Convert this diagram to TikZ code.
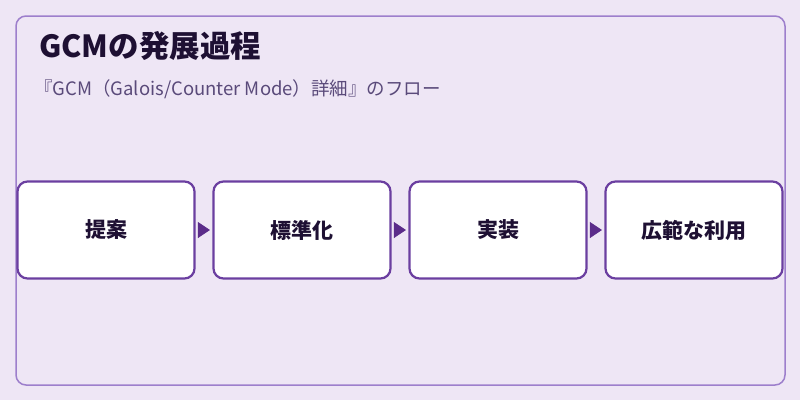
\documentclass[tikz,border=0pt]{standalone}
\usepackage{fontspec}
\setmainfont{Noto Sans CJK JP}
\usetikzlibrary{arrows.meta}
\definecolor{bgc}{HTML}{EEE6F5}
\definecolor{framec}{HTML}{9D7FCC}
\definecolor{boxc}{HTML}{6B3FA0}
\definecolor{arrc}{HTML}{5B2C8A}
\definecolor{titlec}{HTML}{1E1033}
\definecolor{subc}{HTML}{5A4A7A}
\tikzset{
  stepbox/.style={draw=boxc, line width=2.2pt, fill=white, rounded corners=10pt,
    minimum width=177pt, minimum height=97pt, inner sep=0pt,
    font=\bfseries\fontsize{21pt}{24pt}\selectfont, text=titlec},
  flowarrow/.style={draw=arrc, line width=0.6pt, shorten >=2.5pt, shorten <=2.5pt,
    -{Triangle[length=12pt,width=16pt]}, fill=arrc}
}
\begin{document}
\begin{tikzpicture}[x=1pt,y=-1pt]
\useasboundingbox (0,0) rectangle (800,400);
\fill[bgc] (0,0) rectangle (800,400);
\draw[framec, line width=1.5pt, rounded corners=10pt] (16,16) rectangle (785,385);
\node[anchor=base west, inner sep=0pt, text=titlec, font=\bfseries\fontsize{30.5pt}{33pt}\selectfont] (title) at (39,57) {GCMの発展過程};
\node[anchor=base west, inner sep=0pt, text=subc, font=\fontsize{18.5pt}{21pt}\selectfont] (sub) at (34,95) {『GCM（Galois/Counter Mode）詳細』のフロー};
\node[stepbox] (b1) at (106,230) {提案};
\node[stepbox] (b2) at (302,230) {標準化};
\node[stepbox] (b3) at (498,230) {実装};
\node[stepbox] (b4) at (694,230) {広範な利用};
\draw[flowarrow] (b1) -- (b2);
\draw[flowarrow] (b2) -- (b3);
\draw[flowarrow] (b3) -- (b4);
\end{tikzpicture}
\end{document}
